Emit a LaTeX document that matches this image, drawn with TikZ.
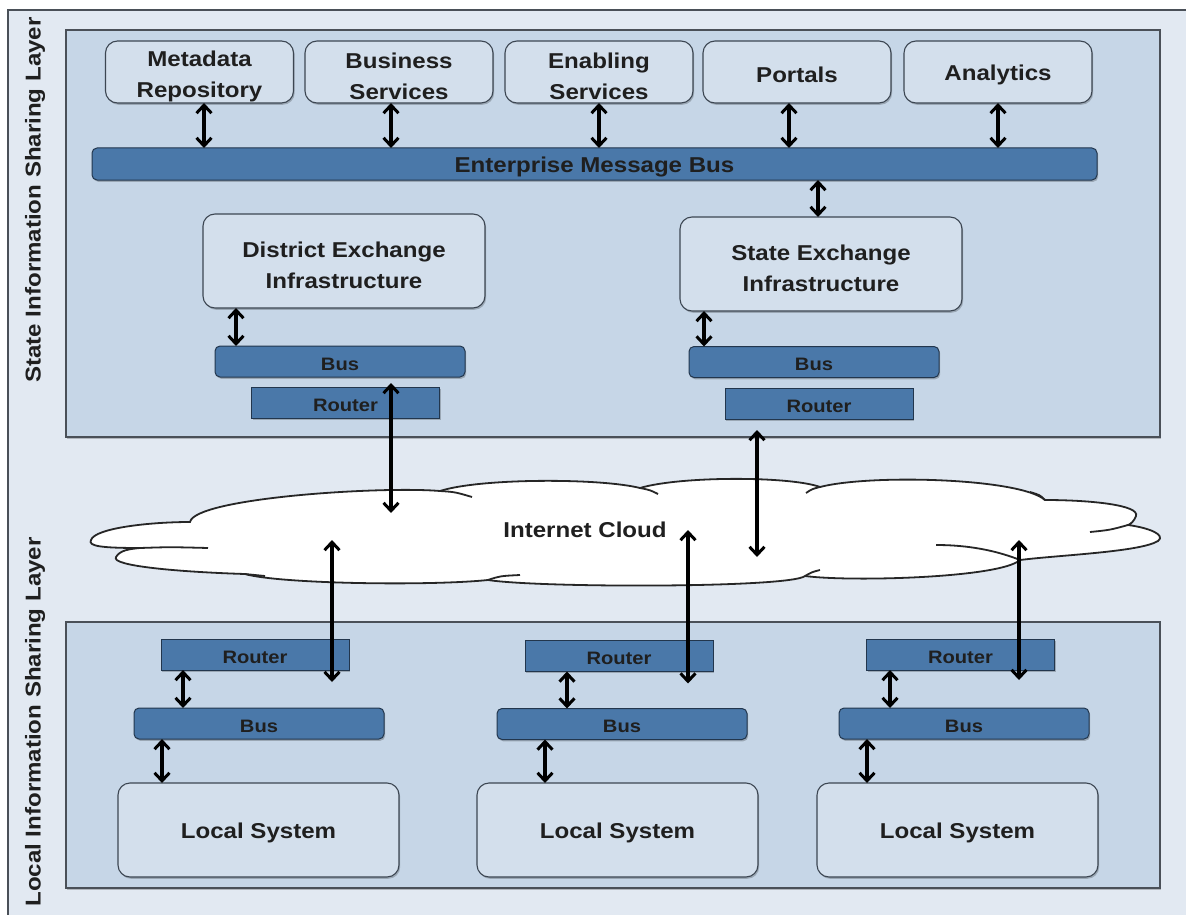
\documentclass[tikz,border=0pt]{standalone}
\usepackage{fontspec}
\setmainfont{Liberation Sans}[FakeStretch=1.12]
\usetikzlibrary{arrows.meta,shadows}

\definecolor{pagebg}{HTML}{E2E9F2}
\definecolor{panelfill}{HTML}{C6D6E7}
\definecolor{panelline}{HTML}{4A5058}
\definecolor{boxfill}{HTML}{D3DFEC}
\definecolor{boxline}{HTML}{3C4652}
\definecolor{barfill}{HTML}{4A78A9}
\definecolor{barline}{HTML}{22364D}

% extra height on the first line pushes a label a little lower in its box
\newcommand\tpad[1]{\rule{0pt}{#1}}

\tikzset{
  softshadow/.style={drop shadow={shadow xshift=1.2pt, shadow yshift=-1.8pt, opacity=0.22, fill=black}},
  panel/.style={draw=panelline, line width=1.2pt, fill=panelfill, softshadow},
  sysbox/.style={draw=boxline, line width=1.1pt, fill=boxfill, rounded corners=12pt,
    inner sep=0pt, outer sep=0pt, align=center, softshadow,
    font=\fontsize{21.5}{31}\selectfont\bfseries, text=black!88},
  busbar/.style={draw=barline, line width=1pt, fill=barfill, rounded corners=5pt,
    inner sep=0pt, outer sep=0pt, minimum height=31pt, softshadow,
    font=\fontsize{18}{20}\selectfont\bfseries, text=black!88},
  routerbar/.style={busbar, rounded corners=0pt, minimum width=188pt},
  dbl/.style={line width=3.1pt, black,
    {Straight Barb[length=8pt,width=15pt,line width=3pt]}-{Straight Barb[length=8pt,width=15pt,line width=3pt]}},
  sidelabel/.style={rotate=90, font=\fontsize{21.5}{24}\selectfont\bfseries, text=black!88},
  cloudline/.style={line width=1.8pt, black!85}
}

\begin{document}
\begin{tikzpicture}[x=1pt, y=-1pt]
  % page and outer frame
  \useasboundingbox (0,0) rectangle (1186,915);
  \fill[white] (0,0) rectangle (1186,915);
  \fill[pagebg] (8,10) rectangle (1186,915);
  \draw[panelline, line width=1.3pt] (8,915) -- (8,10) -- (1186,10);

  % the two layer panels
  \draw[panel] (66,30) rectangle (1160,437);
  \draw[panel] (66,622) rectangle (1160,888);

  \node[sidelabel] (statelbl) at (35,200) {State Information Sharing Layer};
  \node[sidelabel] (locallbl) at (35,722) {Local Information Sharing Layer};

  % state layer: services
  \node[sysbox, minimum width=188pt, minimum height=62pt] (meta) at (199.5,72) {\tpad{25pt}Metadata\\Repository};
  \node[sysbox, minimum width=188pt, minimum height=62pt] (busi) at (399,72) {\tpad{25pt}Business\\Services};
  \node[sysbox, minimum width=188pt, minimum height=62pt] (enab) at (599,72) {\tpad{25pt}Enabling\\Services};
  \node[sysbox, minimum width=188pt, minimum height=62pt] (port) at (797,72) {\tpad{22pt}Portals};
  \node[sysbox, minimum width=188pt, minimum height=62pt] (anal) at (998,72) {\tpad{22pt}Analytics};

  \node[busbar, minimum width=1005pt, minimum height=32pt, font=\fontsize{21.5}{24}\selectfont\bfseries] (emb) at (594.5,164) {\tpad{22pt}Enterprise Message Bus};

  \foreach \n/\dx in {meta/4.5, busi/-8, enab/0, port/-8, anal/0}
    \draw[dbl] ([xshift=\dx pt]\n.south) -- ([xshift=\dx pt]\n.south |- emb.north);

  % exchange infrastructures
  \node[sysbox, minimum width=282pt, minimum height=94pt] (dist) at (344,261) {\tpad{25pt}District Exchange\\Infrastructure};
  \node[sysbox, minimum width=282pt, minimum height=94pt] (stat) at (821,264) {\tpad{25pt}State Exchange\\Infrastructure};
  \draw[dbl] ([xshift=-3pt]stat.north) -- ([xshift=-3pt]stat.north |- emb.south);

  \node[busbar, minimum width=250pt] (dbus) at (340,361.5) {\tpad{18pt}Bus};
  \node[routerbar] (drt) at (345.5,402.5) {\tpad{18pt}Router};
  \node[busbar, minimum width=250pt] (sbus) at (814,362) {\tpad{18pt}Bus};
  \node[routerbar] (srt) at (819,403.5) {\tpad{18pt}Router};

  \draw[dbl] ([xshift=-108pt]dist.south) -- ([xshift=-108pt]dist.south |- dbus.north);
  \draw[dbl] ([xshift=-117pt]stat.south) -- ([xshift=-117pt]stat.south |- sbus.north);

  % internet cloud
  \draw[cloudline, fill=white]
    (91,540) .. controls (95,528) and (150,522) .. (190,522)
    .. controls (195,498) and (380,486) .. (440,491)
    .. controls (480,478) and (600,478) .. (640,488)
    .. controls (680,476) and (790,476) .. (820,487)
    .. controls (870,474) and (1020,478) .. (1045,500)
    .. controls (1090,500) and (1140,505) .. (1136,516)
    .. controls (1134,521) and (1131,524) .. (1128,525)
    .. controls (1150,528) and (1166,535) .. (1158,541)
    .. controls (1140,552) and (1060,555) .. (1020,560)
    .. controls (1000,578) and (850,582) .. (805,576)
    .. controls (790,588) and (540,588) .. (488,580)
    .. controls (430,586) and (280,584) .. (245,574)
    .. controls (180,572) and (110,566) .. (116,557)
    .. controls (120,550) and (130,549) .. (140,548)
    .. controls (100,548) and (88,546) .. (91,540) -- cycle;
  % overlapping puff edges inside the cloud
  \draw[cloudline] (140,548) .. controls (170,547) .. (208,548);
  \draw[cloudline] (245,574) .. controls (255,575) .. (265,576);
  \draw[cloudline] (440,491) .. controls (455,492) .. (472,497);
  \draw[cloudline] (488,580) .. controls (500,576) .. (520,575);
  \draw[cloudline] (640,488) .. controls (650,490) .. (658,494);
  \draw[cloudline] (820,487) .. controls (812,489) .. (806,493);
  \draw[cloudline] (805,576) .. controls (812,572) .. (820,570);
  \draw[cloudline] (1020,560) .. controls (990,548) and (960,545) .. (936,545);
  \draw[cloudline] (1128,525) .. controls (1110,530) .. (1090,532);
  \draw[cloudline] (1045,500) .. controls (1040,495) .. (1030,492);
  \node[font=\fontsize{21.5}{24}\selectfont\bfseries, text=black!88] (inet) at (585,530) {Internet Cloud};

  % free ends of the links inside the cloud
  \coordinate (cd) at (391,513);
  \coordinate (cs) at (757,557);
  \coordinate (c1) at (332,540);
  \coordinate (c2) at (688,530);
  \coordinate (c3) at (1019,540);

  % local layer
  \node[routerbar] (r1) at (255,654.5) {\tpad{18pt}Router};
  \node[routerbar] (r2) at (619,656) {\tpad{18pt}Router};
  \node[routerbar] (r3) at (960.5,654.5) {\tpad{18pt}Router};
  \node[busbar, minimum width=250pt] (b1) at (259,723.5) {\tpad{18pt}Bus};
  \node[busbar, minimum width=250pt] (b2) at (622,724) {\tpad{18pt}Bus};
  \node[busbar, minimum width=250pt] (b3) at (964,723.5) {\tpad{18pt}Bus};
  \node[sysbox, minimum width=281pt, minimum height=94pt] (l1) at (258.5,830) {\tpad{22pt}Local System};
  \node[sysbox, minimum width=281pt, minimum height=94pt] (l2) at (617.5,830) {\tpad{22pt}Local System};
  \node[sysbox, minimum width=281pt, minimum height=94pt] (l3) at (957.5,830) {\tpad{22pt}Local System};

  \draw[dbl] ([xshift=-72pt]r1.south) -- ([xshift=-72pt]r1.south |- b1.north);
  \draw[dbl] ([xshift=-52pt]r2.south) -- ([xshift=-52pt]r2.south |- b2.north);
  \draw[dbl] ([xshift=-70.5pt]r3.south) -- ([xshift=-70.5pt]r3.south |- b3.north);
  \draw[dbl] ([xshift=-97pt]b1.south) -- ([xshift=-97pt]b1.south |- l1.north);
  \draw[dbl] ([xshift=-77pt]b2.south) -- ([xshift=-77pt]b2.south |- l2.north);
  \draw[dbl] ([xshift=-97pt]b3.south) -- ([xshift=-97pt]b3.south |- l3.north);

  % links through the internet cloud
  \draw[dbl] ([yshift=4pt]drt.north -| cd) -- (cd);
  \draw[dbl] ([yshift=-11pt]srt.south -| cs) -- (cs);
  \draw[dbl] (c1) -- ([yshift=-12pt]r1.south -| c1);
  \draw[dbl] (c2) -- ([yshift=-12pt]r2.south -| c2);
  \draw[dbl] (c3) -- ([yshift=-10pt]r3.south -| c3);
\end{tikzpicture}
\end{document}
